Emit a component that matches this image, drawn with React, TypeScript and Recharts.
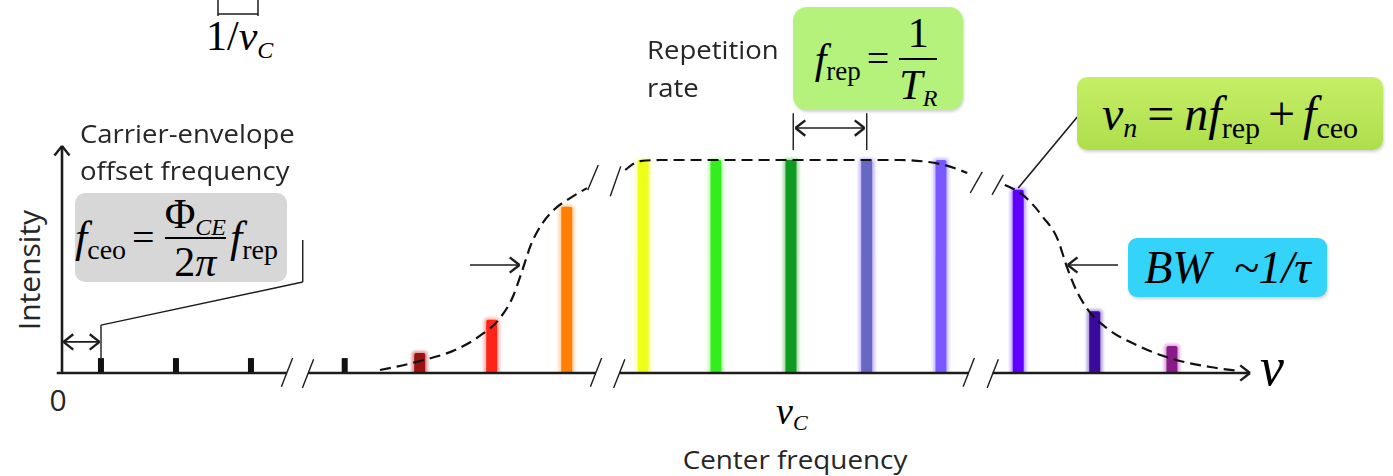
import React from "react";
import { Bar, ComposedChart, Line, ReferenceLine, XAxis, YAxis } from "recharts";

const W = 1393;
const H = 476;

// comb lines: frequency in units of f_rep, relative intensity
const toothFreq = [0.52, 1.52, 2.52, 3.77, 4.77, 5.73, 6.73, 7.75, 8.72, 9.72, 10.73, 11.72, 12.75, 13.77, 14.8];
const toothLevel = [0.07, 0.07, 0.07, 0.07, 0.094, 0.25, 0.78, 1, 1, 1, 1, 1, 0.86, 0.29, 0.127];

// spectral envelope (dashed); null leaves a gap at the axis breaks
const envFreq = [
  4.24, 4.77, 5.24, 5.57, 5.84, 6.01, 6.13, 6.25, 6.4, 6.57, 6.77, 7.0, 7.25, 7.51, 7.71, 7.97, 11.17, 11.71,
  12.07, 12.3, 12.57, 12.81, 13.08, 13.28, 13.39, 13.51, 13.68, 13.93, 14.33, 14.77, 15.31, 15.71,
];
const envLevel = [
  0.014, 0.056, 0.108, 0.174, 0.258, 0.357, 0.474, 0.6, 0.7, 0.77, 0.82, 0.868, null, 0.953, 0.995, 1, 1,
  0.981, 0.939, null, 0.883, 0.836, 0.732, 0.624, 0.507, 0.399, 0.296, 0.211, 0.131, 0.07, 0.028, 0.009,
];

const toothColors = [
  "#111", "#111", "#111", "#111", "#9a1212", "#ff2418", "#ff8000", "#eeff1a", "#33ee1c", "#0f9a22",
  "#6767c4", "#7a58ff", "#6000ff", "#3a0a9c", "#8a1a88",
];
const toothGlow = [
  "", "", "", "", "#c04040", "#ff7060", "#ffb060", "#f8ff80", "#90ff80", "#60c060",
  "#9a80ff", "#a090ff", "#9060ff", "#7050c0", "#c060c0",
];

const teeth = toothFreq.map((f, i) => ({ f, level: toothLevel[i] }));
const envelope = envFreq.map((f, i) => ({ f, level: envLevel[i] }));

const X_MAX = 15.84;
const Y_MAX = 1.1;
const AX = "#1c1c1c";
const sans = '"Open Sans", "Liberation Sans", sans-serif';
const serif = '"Liberation Serif", "DejaVu Serif", serif';

type Pt = [number, number];

const seg = (key: string, a: Pt, b: Pt, w = 1.6, stroke = AX) => (
  <ReferenceLine
    key={key}
    segment={[{ x: a[0], y: a[1] }, { x: b[0], y: b[1] }]}
    stroke={stroke}
    strokeWidth={w}
    ifOverflow="visible"
  />
);

// open chevron arrow head with its tip at (f, y)
const head = (key: string, f: number, y: number, dir: "l" | "r" | "u") => {
  if (dir === "u") {
    return [seg(key + "a", [f - 0.1, y - 0.045], [f, y], 2.4), seg(key + "b", [f + 0.1, y - 0.045], [f, y], 2.4)];
  }
  const dx = dir === "r" ? -0.13 : 0.13;
  return [seg(key + "a", [f + dx, y + 0.036], [f, y], 2.4), seg(key + "b", [f + dx, y - 0.036], [f, y], 2.4)];
};

// axis is interrupted in three places
const axisBreaks: Pt[] = [
  [3.0, 3.28],
  [7.12, 7.43],
  [12.09, 12.41],
];

const Tooth = (p: any) => {
  const i = toothFreq.indexOf(p.payload.f);
  const dark = i < 4;
  const w = dark ? 6 : 11;
  const cx = p.x + p.width / 2;
  return (
    <g>
      {!dark && (
        <rect
          x={cx - w / 2 - 2.5}
          y={p.y - 2}
          width={w + 5}
          height={p.height + 7}
          rx={4}
          fill={toothGlow[i]}
          opacity={0.55}
          style={{ filter: "blur(1.5px)" }}
        />
      )}
      <rect x={cx - w / 2} y={p.y} width={w} height={p.height + (dark ? 0 : 3)} rx={dark ? 0 : 2} fill={toothColors[i]} />
    </g>
  );
};

const Sub = ({ children, size, italic = false, dy = 0.28 }: any) => (
  <span style={{ fontSize: size, fontStyle: italic ? "italic" : "normal", position: "relative", top: `${dy}em` }}>
    {children}
  </span>
);

const It = ({ children }: any) => <span style={{ fontStyle: "italic" }}>{children}</span>;

const Frac = ({ num, den, pad = 2 }: any) => (
  <span style={{ display: "inline-flex", flexDirection: "column", alignItems: "center", margin: "0 4px" }}>
    <span style={{ paddingBottom: pad }}>{num}</span>
    <span style={{ borderTop: "2px solid #000", alignSelf: "stretch", textAlign: "center", paddingTop: pad }}>{den}</span>
  </span>
);

const Label = ({ left, top, size, children, center = false, sx = 1.1, lh = 1 }: any) => (
  <div
    style={{
      position: "absolute",
      left,
      top,
      fontFamily: sans,
      fontSize: size,
      lineHeight: lh,
      color: "#262626",
      whiteSpace: "nowrap",
      transform: center ? `translateX(-50%) scaleX(${sx})` : `scaleX(${sx})`,
      transformOrigin: center ? "center top" : "left top",
    }}
  >
    {children}
  </div>
);

const Box = ({ left, top, w, h, bg, r = 10, children, justify = "center", shadow = true }: any) => (
  <div
    style={{
      position: "absolute",
      left,
      top,
      width: w,
      height: h,
      background: bg,
      borderRadius: r,
      display: "flex",
      alignItems: "center",
      justifyContent: justify,
      fontFamily: serif,
      color: "#000",
      lineHeight: 1,
      whiteSpace: "nowrap",
      boxShadow: shadow ? "1px 2px 3px rgba(0,0,0,0.18)" : "none",
    }}
  >
    {children}
  </div>
);

export default function App() {
  const axisParts: Pt[] = [];
  let start = -0.07;
  axisBreaks.forEach(([a, b]) => {
    axisParts.push([start, a]);
    start = b;
  });
  axisParts.push([start, X_MAX]);

  return (
    <div style={{ position: "relative", width: W, height: H, background: "#fff", overflow: "hidden" }}>
      <style>{"body{margin:0}"}</style>
      <ComposedChart
        width={W}
        height={H}
        data={teeth}
        margin={{ top: 138.7, right: 143, bottom: 103, left: 62 }}
      >
        <XAxis hide type="number" dataKey="f" domain={[0, X_MAX]} allowDataOverflow />
        <YAxis hide type="number" domain={[0, Y_MAX]} allowDataOverflow />
        <Bar dataKey="level" barSize={12} shape={Tooth} isAnimationActive={false} />
        <Line
          data={envelope}
          dataKey="level"
          type="monotone"
          stroke="#111"
          strokeWidth={2.2}
          strokeDasharray="11 6"
          dot={false}
          connectNulls={false}
          isAnimationActive={false}
        />

        {/* axes */}
        {seg("yaxis", [0, 0], [0, 1.066], 2.6)}
        {head("yh", 0, 1.066, "u")}
        {axisParts.map((p, i) => seg("xa" + i, [p[0], 0], [p[1], 0], 2.6))}
        {head("xh", X_MAX, 0, "r")}
        {axisBreaks.flatMap(([a, b], i) => [
          seg("bk" + i + "a", [a - 0.075, -0.065], [a + 0.075, 0.07], 1.4),
          seg("bk" + i + "b", [b - 0.075, -0.07], [b + 0.075, 0.065], 1.4),
        ])}

        {/* break marks on the envelope */}
        {seg("eb1", [7.01, 0.859], [7.15, 0.977], 1.4)}
        {seg("eb2", [7.31, 0.83], [7.45, 0.97], 1.4)}
        {seg("eb3", [12.11, 0.845], [12.27, 0.944], 1.4)}
        {seg("eb4", [12.4, 0.836], [12.55, 0.93], 1.4)}

        {/* carrier-envelope offset: arrow and leader */}
        {seg("ceo", [0.02, 0.146], [0.5, 0.146], 1.6)}
        {head("ceoL", 0.02, 0.146, "l")}
        {head("ceoR", 0.5, 0.146, "r")}
        {seg("ceo1", [0.52, 0.07], [0.52, 0.225], 1.4)}
        {seg("ceo2", [0.52, 0.225], [3.21, 0.427], 1.4)}
        {seg("ceo3", [3.21, 0.427], [3.21, 0.624], 1.4)}

        {/* repetition rate spacing */}
        {seg("rep1", [9.75, 1.047], [9.75, 1.22], 1.4)}
        {seg("rep2", [10.73, 1.047], [10.73, 1.22], 1.4)}
        {seg("rep", [9.78, 1.15], [10.7, 1.15], 1.6)}
        {head("repL", 9.78, 1.15, "l")}
        {head("repR", 10.7, 1.15, "r")}

        {/* bandwidth arrows */}
        {seg("bwL", [5.44, 0.507], [6.1, 0.507], 1.6)}
        {head("bwLh", 6.1, 0.507, "r")}
        {seg("bwR", [14.08, 0.507], [13.41, 0.507], 1.6)}
        {head("bwRh", 13.41, 0.507, "l")}

        {/* leader to the mode equation */}
        {seg("vn", [12.75, 0.869], [13.57, 1.216], 1.6)}
      </ComposedChart>

      <div style={{ position: "absolute", inset: 0, pointerEvents: "none" }}>
        {/* optical cycle bracket */}
        <svg width={W} height={H} style={{ position: "absolute", left: 0, top: 0 }}>
          <path d="M218 0 V16 M258 0 V16 M218 14 H258" stroke={AX} strokeWidth={1.5} fill="none" />
        </svg>
        <div style={{ position: "absolute", left: 206, top: 15, fontFamily: serif, fontSize: 42, lineHeight: 1 }}>
          1/<It>ν</It>
          <Sub size={24} italic dy={0.35}>
            C
          </Sub>
        </div>

        <Label left={80} top={115} size={25} lh="37px">
          Carrier-envelope
          <br />
          offset frequency
        </Label>
        <Label left={647} top={30} size={25} lh="38px">
          Repetition
          <br />
          rate
        </Label>
        <Label left={795} top={446} size={26} center sx={1.07}>
          Center frequency
        </Label>
        <Label left={58} top={385} size={30} center sx={1}>
          0
        </Label>
        <div
          style={{
            position: "absolute",
            left: 29,
            top: 270,
            fontFamily: sans,
            fontSize: 30,
            lineHeight: 1,
            color: "#262626",
            transform: "translate(-50%, -50%) rotate(-90deg)",
            whiteSpace: "nowrap",
          }}
        >
          Intensity
        </div>

        <div style={{ position: "absolute", left: 776, top: 392, fontFamily: serif, fontSize: 38, lineHeight: 1 }}>
          <It>ν</It>
          <Sub size={22} italic dy={0.28}>
            C
          </Sub>
        </div>
        <div style={{ position: "absolute", left: 1260, top: 340, fontFamily: serif, fontSize: 54, lineHeight: 1 }}>
          <It>ν</It>
        </div>

        <Box left={75} top={193} w={212} h={89} bg="#d7d7d7" justify="flex-start" shadow={false}>
          <span style={{ fontSize: 44 }}>
            <It>f</It>
            <Sub size={28}>ceo</Sub>
          </span>
          <span style={{ fontSize: 40, margin: "0 6px" }}>=</span>
          <span style={{ fontSize: 42 }}>
            <Frac
              num={
                <span>
                  Φ
                  <Sub size={24} italic dy={0.3}>
                    CE
                  </Sub>
                </span>
              }
              den={
                <span>
                  2<It>π</It>
                </span>
              }
            />
          </span>
          <span style={{ fontSize: 44 }}>
            <It>f</It>
            <Sub size={28}>rep</Sub>
          </span>
        </Box>

        <Box left={793} top={7} w={170} h={103} bg="#b5f27c" r={14}>
          <span style={{ fontSize: 42 }}>
            <It>f</It>
            <Sub size={27}>rep</Sub>
          </span>
          <span style={{ fontSize: 40, margin: "0 6px" }}>=</span>
          <span style={{ fontSize: 42 }}>
            <Frac
              num={<span>1</span>}
              den={
                <span>
                  <It>T</It>
                  <Sub size={24} italic dy={0.3}>
                    R
                  </Sub>
                </span>
              }
              pad={4}
            />
          </span>
        </Box>

        <Box left={1077} top={77} w={306} h={73} bg="linear-gradient(#c6ee66, #aede4c)" r={10}>
          <span style={{ fontSize: 48 }}>
            <It>ν</It>
            <Sub size={28} italic>
              n
            </Sub>
            <span style={{ margin: "0 10px" }}>=</span>
            <It>nf</It>
            <Sub size={30}>rep</Sub>
            <span style={{ margin: "0 8px" }}>+</span>
            <It>f</It>
            <Sub size={30}>ceo</Sub>
          </span>
        </Box>

        <Box left={1128} top={238} w={199} h={59} bg="#33d3fa" r={9}>
          <span style={{ fontSize: 46, fontStyle: "italic" }}>
            BW&nbsp;&nbsp;~1/τ
          </span>
        </Box>
      </div>
    </div>
  );
}
